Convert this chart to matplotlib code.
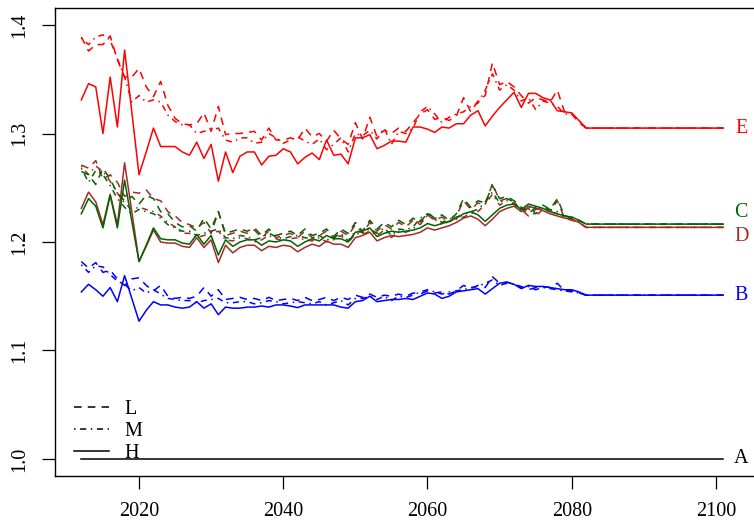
import matplotlib
matplotlib.use("Agg")
import matplotlib.pyplot as plt
from matplotlib.lines import Line2D

plt.rcParams['font.family'] = ['Liberation Serif', 'DejaVu Serif']

years = list(range(2012, 2083)) + [2101]

E_L = [1.389, 1.376, 1.382, 1.382, 1.390, 1.368, 1.352, 1.352, 1.360, 1.343, 1.334, 1.348, 1.326, 1.314, 1.309, 1.308, 1.309, 1.319, 1.302, 1.325,
       1.299, 1.300, 1.300, 1.301, 1.302, 1.294, 1.305, 1.294, 1.294, 1.296, 1.294, 1.305, 1.297, 1.300, 1.293, 1.303, 1.295, 1.290, 1.310, 1.295,
       1.315, 1.297, 1.303, 1.300, 1.305, 1.302, 1.310, 1.318, 1.322, 1.313, 1.315, 1.312, 1.316, 1.333, 1.320, 1.330, 1.335, 1.365, 1.345, 1.348,
       1.343, 1.335, 1.328, 1.333, 1.331, 1.329, 1.340, 1.320, 1.318, 1.310, 1.305, 1.305]
E_M = [1.388, 1.382, 1.389, 1.391, 1.386, 1.369, 1.352, 1.329, 1.335, 1.329, 1.331, 1.329, 1.317, 1.311, 1.308, 1.308, 1.300, 1.302, 1.303, 1.305,
       1.294, 1.292, 1.296, 1.296, 1.291, 1.292, 1.300, 1.296, 1.291, 1.294, 1.297, 1.293, 1.290, 1.295, 1.285, 1.290, 1.296, 1.283, 1.300, 1.298,
       1.303, 1.295, 1.305, 1.290, 1.302, 1.300, 1.305, 1.320, 1.325, 1.318, 1.310, 1.315, 1.318, 1.320, 1.325, 1.328, 1.340, 1.355, 1.340, 1.345,
       1.340, 1.330, 1.333, 1.322, 1.330, 1.328, 1.325, 1.318, 1.318, 1.312, 1.305, 1.305]
E_H = [1.331, 1.346, 1.343, 1.300, 1.352, 1.306, 1.377, 1.320, 1.262, 1.283, 1.305, 1.288, 1.288, 1.288, 1.283, 1.280, 1.292, 1.277, 1.290, 1.256,
       1.283, 1.264, 1.279, 1.283, 1.283, 1.271, 1.279, 1.280, 1.286, 1.283, 1.272, 1.278, 1.282, 1.276, 1.294, 1.280, 1.281, 1.272, 1.296, 1.296,
       1.299, 1.286, 1.289, 1.293, 1.293, 1.292, 1.306, 1.306, 1.304, 1.301, 1.306, 1.305, 1.309, 1.309, 1.317, 1.321, 1.307, 1.316, 1.324, 1.331,
       1.338, 1.324, 1.337, 1.337, 1.333, 1.331, 1.321, 1.320, 1.319, 1.312, 1.305, 1.305]

C_L = [1.265, 1.262, 1.253, 1.268, 1.258, 1.245, 1.238, 1.242, 1.235, 1.243, 1.240, 1.228, 1.226, 1.218, 1.214, 1.215, 1.210, 1.222, 1.212, 1.228,
       1.208, 1.210, 1.212, 1.210, 1.213, 1.206, 1.212, 1.206, 1.208, 1.210, 1.206, 1.212, 1.206, 1.208, 1.212, 1.205, 1.212, 1.208, 1.218, 1.210,
       1.220, 1.212, 1.218, 1.214, 1.220, 1.216, 1.222, 1.218, 1.227, 1.222, 1.225, 1.220, 1.226, 1.240, 1.232, 1.238, 1.236, 1.252, 1.240, 1.242,
       1.238, 1.232, 1.226, 1.232, 1.234, 1.230, 1.240, 1.224, 1.222, 1.220, 1.2165, 1.2165]
C_M = [1.268, 1.255, 1.266, 1.262, 1.252, 1.240, 1.232, 1.226, 1.230, 1.228, 1.226, 1.222, 1.216, 1.213, 1.210, 1.210, 1.206, 1.208, 1.210, 1.212,
       1.204, 1.203, 1.206, 1.205, 1.202, 1.204, 1.208, 1.205, 1.203, 1.205, 1.206, 1.204, 1.203, 1.206, 1.202, 1.204, 1.208, 1.201, 1.210, 1.209,
       1.212, 1.208, 1.213, 1.206, 1.212, 1.211, 1.214, 1.222, 1.226, 1.223, 1.218, 1.221, 1.223, 1.225, 1.228, 1.230, 1.237, 1.246, 1.236, 1.240,
       1.237, 1.230, 1.233, 1.226, 1.232, 1.230, 1.228, 1.224, 1.223, 1.220, 1.2165, 1.2165]
C_H = [1.226, 1.240, 1.233, 1.213, 1.243, 1.213, 1.257, 1.219, 1.182, 1.197, 1.213, 1.203, 1.202, 1.202, 1.199, 1.198, 1.207, 1.198, 1.206, 1.188,
       1.202, 1.196, 1.200, 1.202, 1.202, 1.197, 1.201, 1.200, 1.202, 1.201, 1.196, 1.200, 1.203, 1.201, 1.206, 1.203, 1.203, 1.200, 1.209, 1.210,
       1.213, 1.205, 1.208, 1.210, 1.209, 1.210, 1.211, 1.213, 1.217, 1.215, 1.217, 1.219, 1.222, 1.226, 1.228, 1.225, 1.219, 1.225, 1.231, 1.234,
       1.235, 1.230, 1.235, 1.233, 1.231, 1.228, 1.226, 1.224, 1.223, 1.220, 1.2165, 1.2165]

D_L = [1.271, 1.268, 1.275, 1.258, 1.262, 1.255, 1.242, 1.246, 1.245, 1.248, 1.240, 1.238, 1.228, 1.224, 1.218, 1.216, 1.213, 1.218, 1.208, 1.228,
       1.206, 1.208, 1.210, 1.208, 1.211, 1.204, 1.210, 1.204, 1.206, 1.208, 1.204, 1.210, 1.204, 1.206, 1.210, 1.203, 1.210, 1.206, 1.216, 1.208,
       1.218, 1.210, 1.216, 1.212, 1.218, 1.214, 1.220, 1.216, 1.225, 1.220, 1.223, 1.218, 1.224, 1.238, 1.230, 1.236, 1.234, 1.254, 1.238, 1.240,
       1.236, 1.230, 1.224, 1.230, 1.232, 1.228, 1.238, 1.222, 1.220, 1.218, 1.2135, 1.2135]
D_M = [1.270, 1.262, 1.270, 1.265, 1.256, 1.245, 1.236, 1.230, 1.232, 1.230, 1.228, 1.224, 1.218, 1.214, 1.208, 1.208, 1.204, 1.206, 1.208, 1.210,
       1.202, 1.201, 1.204, 1.203, 1.200, 1.202, 1.206, 1.203, 1.201, 1.203, 1.204, 1.202, 1.201, 1.204, 1.200, 1.202, 1.206, 1.199, 1.208, 1.207,
       1.210, 1.206, 1.211, 1.204, 1.210, 1.209, 1.212, 1.220, 1.224, 1.221, 1.216, 1.219, 1.221, 1.223, 1.226, 1.228, 1.235, 1.244, 1.234, 1.238,
       1.235, 1.228, 1.231, 1.224, 1.230, 1.228, 1.226, 1.222, 1.221, 1.218, 1.2135, 1.2135]
D_H = [1.231, 1.246, 1.237, 1.216, 1.244, 1.216, 1.273, 1.228, 1.182, 1.196, 1.211, 1.200, 1.199, 1.199, 1.196, 1.195, 1.204, 1.195, 1.202, 1.181,
       1.197, 1.190, 1.195, 1.197, 1.197, 1.192, 1.196, 1.195, 1.197, 1.196, 1.191, 1.195, 1.198, 1.196, 1.201, 1.198, 1.198, 1.195, 1.204, 1.206,
       1.209, 1.201, 1.204, 1.206, 1.205, 1.206, 1.207, 1.209, 1.213, 1.211, 1.213, 1.215, 1.218, 1.222, 1.224, 1.221, 1.215, 1.221, 1.228, 1.231,
       1.233, 1.228, 1.233, 1.231, 1.229, 1.226, 1.224, 1.222, 1.221, 1.218, 1.2135, 1.2135]

B_L = [1.182, 1.176, 1.181, 1.172, 1.174, 1.166, 1.160, 1.166, 1.167, 1.160, 1.155, 1.160, 1.150, 1.148, 1.149, 1.148, 1.150, 1.158, 1.150, 1.156,
       1.147, 1.148, 1.149, 1.147, 1.148, 1.146, 1.149, 1.146, 1.147, 1.148, 1.146, 1.149, 1.146, 1.147, 1.149, 1.146, 1.149, 1.147, 1.151, 1.149,
       1.152, 1.149, 1.151, 1.150, 1.152, 1.150, 1.153, 1.152, 1.155, 1.153, 1.154, 1.152, 1.155, 1.160, 1.157, 1.160, 1.158, 1.168, 1.162, 1.163,
       1.161, 1.159, 1.156, 1.158, 1.159, 1.158, 1.162, 1.155, 1.155, 1.153, 1.151, 1.151]
B_M = [1.179, 1.172, 1.178, 1.177, 1.170, 1.164, 1.161, 1.155, 1.158, 1.153, 1.156, 1.152, 1.148, 1.147, 1.146, 1.146, 1.144, 1.146, 1.147, 1.148,
       1.144, 1.144, 1.145, 1.145, 1.143, 1.144, 1.146, 1.145, 1.143, 1.144, 1.145, 1.144, 1.143, 1.145, 1.142, 1.144, 1.146, 1.142, 1.148, 1.148,
       1.150, 1.147, 1.150, 1.146, 1.150, 1.149, 1.151, 1.154, 1.156, 1.154, 1.152, 1.154, 1.155, 1.156, 1.158, 1.159, 1.162, 1.165, 1.160, 1.162,
       1.161, 1.158, 1.159, 1.156, 1.158, 1.157, 1.156, 1.155, 1.154, 1.153, 1.151, 1.151]
B_H = [1.154, 1.161, 1.156, 1.150, 1.158, 1.145, 1.169, 1.148, 1.127, 1.137, 1.145, 1.142, 1.142, 1.140, 1.139, 1.140, 1.145, 1.139, 1.143, 1.133,
       1.140, 1.139, 1.139, 1.140, 1.140, 1.141, 1.140, 1.142, 1.142, 1.141, 1.1395, 1.142, 1.142, 1.142, 1.142, 1.142, 1.140, 1.139, 1.145, 1.146,
       1.150, 1.145, 1.146, 1.147, 1.147, 1.148, 1.147, 1.150, 1.153, 1.152, 1.148, 1.150, 1.154, 1.155, 1.156, 1.157, 1.152, 1.157, 1.162, 1.163,
       1.161, 1.157, 1.160, 1.159, 1.159, 1.158, 1.157, 1.156, 1.156, 1.154, 1.151, 1.151]

A_years = [2012, 2101]
A_vals = [1.0, 1.0]

series_labels = ['E', 'C', 'D', 'B', 'A']
label_values = [1.305, 1.2275, 1.2055, 1.151, 1.0]
label_colors = ['#FF0000', '#006400', '#A52A2A', '#0000FF', '#000000']
legend_labels = ['L', 'M', 'H']

xticks = [2020, 2040, 2060, 2080, 2100]
yticks = [1.0, 1.1, 1.2, 1.3, 1.4]

DASH = (0, (5, 4))
DOTDASH = (0, (1, 3, 4, 3))
LW = 1.1

fig = plt.figure(figsize=(7.54, 5.25), dpi=100)
ax = fig.add_axes([55/754, 49/525, 701/754, 468/525])

groups = [
    ('#FF0000', E_L, E_M, E_H),
    ('#A52A2A', D_L, D_M, D_H),
    ('#006400', C_L, C_M, C_H),
    ('#0000FF', B_L, B_M, B_H),
]
for col, L, M, H in groups:
    ax.plot(years, L, color=col, lw=LW, linestyle=DASH)
    ax.plot(years, M, color=col, lw=LW, linestyle=DOTDASH)
    ax.plot(years, H, color=col, lw=LW, linestyle='-')
ax.plot(A_years, A_vals, color='black', lw=LW)

for lab, v, c in zip(series_labels, label_values, label_colors):
    ax.text(2103.5, v, lab, color=c, fontsize=14.5, ha='center', va='center')

ax.set_xlim(2008.35, 2105.55)
ax.set_ylim(0.9843, 1.4157)
ax.set_xticks(xticks)
ax.set_xticklabels([str(t) for t in xticks], fontsize=14.5)
ax.set_yticks(yticks)
ax.set_yticklabels([f"{t:.1f}" for t in yticks], fontsize=14.5, rotation=90, va='center')
ax.tick_params(length=9.5, width=0.9, pad=9, direction='out')
for s in ax.spines.values():
    s.set_linewidth(1.0)

handles = [Line2D([], [], color='black', lw=LW, linestyle=DASH),
           Line2D([], [], color='black', lw=LW, linestyle=DOTDASH),
           Line2D([], [], color='black', lw=LW, linestyle='-')]
ax.legend(handles, legend_labels, loc='lower left', bbox_to_anchor=(0.015, 0.011),
          frameon=False, fontsize=14.5, handlelength=1.75, handletextpad=0.8,
          labelspacing=0.15, borderaxespad=0)

fig.savefig('out.png', dpi=100)
